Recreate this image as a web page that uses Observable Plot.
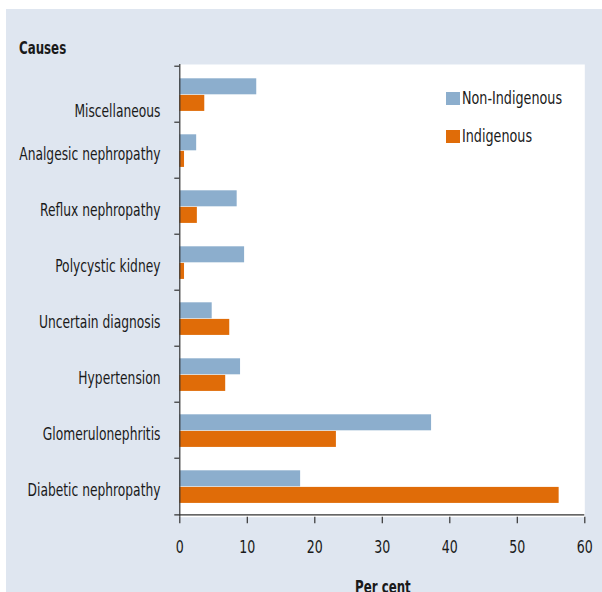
<!DOCTYPE html>
<html>
<head>
<meta charset="utf-8">
<script src="https://cdn.jsdelivr.net/npm/d3@7"></script>
<script src="https://cdn.jsdelivr.net/npm/@observablehq/plot@0.6"></script>
<style>
  html, body { margin: 0; padding: 0; background: #ffffff; }
  body { width: 602px; height: 592px; position: relative; overflow: hidden;
         font-family: "DejaVu Sans Condensed", "Liberation Sans", sans-serif; color: #1a1a1a; }
  #chart { position: absolute; left: 6px; top: 9px; width: 596px; height: 583px; background: #dfe6f0; }
  .title { position: absolute; font-weight: bold; font-size: 18px; transform-origin: 0 0; }
  .legend { position: absolute; left: 446px; font-size: 17.5px; line-height: 14px; display: flex; align-items: center; }
  .legend span.sw { display: inline-block; width: 14px; height: 13px; margin-right: 2px; }
  .legend span.lt { display: inline-block; transform: scaleX(0.81); transform-origin: 0 50%; white-space: nowrap; }
</style>
</head>
<body>
<div id="chart"></div>
<div class="title" style="left:19px; top:37px; transform: scaleX(0.73);">Causes</div>
<div class="title" style="left:355px; top:576px; transform: scaleX(0.73);">Per cent</div>
<div class="legend" style="top:91px;"><span class="sw" id="sw0"></span><span class="lt" id="lg0"></span></div>
<div class="legend" style="top:129px;"><span class="sw" id="sw1"></span><span class="lt" id="lg1"></span></div>
<script>
const categories = ["Miscellaneous", "Analgesic nephropathy", "Reflux nephropathy", "Polycystic kidney",
  "Uncertain diagnosis", "Hypertension", "Glomerulonephritis", "Diabetic nephropathy"];
const seriesNames = ["Non-Indigenous", "Indigenous"];
const nonIndigenous = [11.4, 2.5, 8.5, 9.6, 4.8, 9.0, 37.3, 17.9];
const indigenous = [3.7, 0.7, 2.6, 0.7, 7.4, 6.8, 23.2, 56.2];
const xTicks = [0, 10, 20, 30, 40, 50, 60];
const colors = ["#8caecd", "#e06c08"];

const W = 596, H = 583, mL = 173.3, mR = 17.7, mT = 55, mB = 75.3;
const step = (H - mT - mB) / categories.length;
const kx = (W - mL - mR) / 60;
const barH = 16.6, topPad = 12.3;

const rows = categories.map((c, i) => ({cause: c, non: nonIndigenous[i], ind: indigenous[i]}));

const font = '"DejaVu Sans Condensed", "Liberation Sans", sans-serif';

const chart = Plot.plot({
  width: W, height: H,
  marginLeft: mL, marginRight: mR, marginTop: mT, marginBottom: mB,
  style: {background: "transparent", fontFamily: font, color: "#1a1a1a", overflow: "visible"},
  x: {domain: [0, 60], ticks: xTicks, label: null},
  y: {domain: categories, padding: 0, label: null},
  marks: [
    Plot.frame({fill: "white", stroke: null}),
    Plot.barX(rows, {x: "non", y: "cause", fill: colors[0], insetTop: topPad, insetBottom: step - topPad - barH}),
    Plot.barX(rows, {x: "ind", y: "cause", fill: colors[1], insetTop: topPad + barH, insetBottom: step - topPad - 2 * barH}),
    Plot.ruleX([0], {stroke: "#333", strokeWidth: 1.2}),
    Plot.ruleY(categories, {y: d => d, x1: -5 / kx, x2: 0, dy: -step / 2, stroke: "#333", strokeWidth: 1.2}),
    Plot.ruleY([categories[categories.length - 1]], {y: d => d, x1: -5 / kx, x2: 60, dy: step / 2, stroke: "#333", strokeWidth: 1.2}),
    Plot.axisX({ticks: xTicks, tickSize: 6.5, tickPadding: 17, fontSize: 17.5, stroke: "#333", strokeWidth: 1.2, label: null}),
    Plot.axisY({tickSize: 0, tickPadding: 19.3, dy: 3.5, fontSize: 17.5, label: null})
  ]
});
function squeeze(sel, k) {
  chart.querySelectorAll(sel).forEach(t => t.setAttribute("transform", (t.getAttribute("transform") || "") + ` scale(${k},1)`));
}
squeeze('g[aria-label="y-axis tick label"] text', 0.78);
squeeze('g[aria-label="x-axis tick label"] text', 0.8);
// the reference sets its top label lower, level with the Indigenous bar
chart.querySelectorAll('g[aria-label="y-axis tick label"] text').forEach(t => {
  if (t.textContent === categories[0]) t.setAttribute("transform", t.getAttribute("transform") + " translate(0,13)");
});
document.getElementById("chart").appendChild(chart);
seriesNames.forEach((s, i) => {
  document.getElementById("sw" + i).style.background = colors[i];
  document.getElementById("lg" + i).textContent = s;
});
</script>
</body>
</html>
